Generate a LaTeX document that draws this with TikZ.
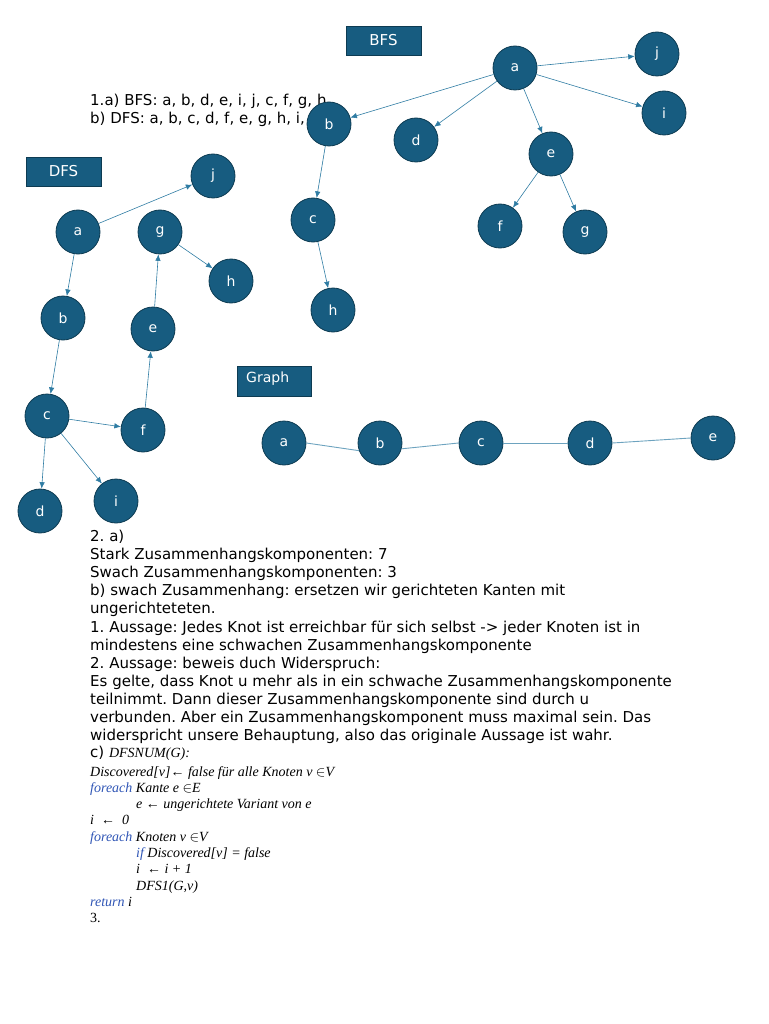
\documentclass[tikz,border=0pt]{standalone}
\usepackage{fontspec}
\setmainfont{DejaVu Sans}
\newfontfamily\tms{Liberation Serif}
\usetikzlibrary{arrows.meta}
\definecolor{nodefill}{HTML}{175C80}
\definecolor{nodeedge}{HTML}{0D3B52}
\definecolor{edgecol}{HTML}{2F7CA3}
\definecolor{kw}{HTML}{2F55B5}
\frenchspacing
\begin{document}
\begin{tikzpicture}[x=1pt,y=-1pt,
 vtx/.style={circle,fill=nodefill,draw=nodeedge,line width=0.8pt,minimum size=44pt,inner sep=0pt,text=white,font=\fontsize{14}{16}\selectfont},
 lbl/.style={rectangle,fill=nodefill,draw=nodeedge,line width=0.8pt,minimum width=75pt,minimum height=29pt,inner sep=0pt,text=white,font=\fontsize{15}{17}\selectfont},
 arr/.style={draw=edgecol,line width=0.6pt,-{Latex[length=6.5pt,width=5.5pt]}},
 und/.style={draw=edgecol!70,line width=0.9pt},
 txt/.style={anchor=base west,inner sep=0pt,font=\fontsize{15}{18}\selectfont},
 code/.style={anchor=base west,inner sep=0pt,font=\tms\itshape\fontsize{14}{16}\selectfont},
]
\useasboundingbox (0,0) rectangle (768,1024);

% ---- text ----
\node[txt] (t01) at (90,106) {1.a) BFS: a, b, d, e, i, j, c, f, g, h};
\node[txt] (t02) at (90,124) {b) DFS: a, b, c, d, f, e, g, h, i, j};

\node[txt] (t1) at (90,541) {2. a)};
\node[txt] (t2) at (90,559) {Stark Zusammenhangskomponenten: 7};
\node[txt] (t3) at (90,577) {Swach Zusammenhangskomponenten: 3};
\node[txt] (t4) at (90,595) {b) swach Zusammenhang: ersetzen wir gerichteten Kanten mit};
\node[txt] (t5) at (90,613) {ungerichteteten.};
\node[txt] (t6) at (90,632) {1. Aussage: Jedes Knot ist erreichbar für sich selbst -> jeder Knoten ist in};
\node[txt] (t7) at (90,650) {mindestens eine schwachen Zusammenhangskomponente};
\node[txt] (t8) at (90,668) {2. Aussage: beweis duch Widerspruch:};
\node[txt] (t9) at (90,686) {Es gelte, dass Knot u mehr als in ein schwache Zusammenhangskomponente};
\node[txt] (t10) at (90,704) {teilnimmt. Dann dieser Zusammenhangskomponente sind durch u};
\node[txt] (t11) at (90,722) {verbunden. Aber ein Zusammenhangskomponent muss maximal sein. Das};
\node[txt] (t12) at (90,740) {widerspricht unsere Behauptung, also das originale Aussage ist wahr.};
\node[txt] (t13) at (90,757) {c) {\tms\itshape\fontsize{14}{16}\selectfont DFSNUM(G):}};

\node[code] (c1) at (90,776) {Discovered[v]← false für alle Knoten v $\in$V};
\node[code] (c2) at (90,792) {\textcolor{kw}{foreach} Kante e $\in$E};
\node[code] (c3) at (136,808) {e ← ungerichtete Variant von e};
\node[code] (c4) at (90,824) {i \ ← \ 0};
\node[code] (c5) at (90,841) {\textcolor{kw}{foreach} Knoten v $\in$V};
\node[code] (c6) at (136,857) {\textcolor{kw}{if} Discovered[v] = false};
\node[code] (c7) at (136,873) {i \ ← i + 1};
\node[code] (c8) at (136,890) {DFS1(G,v)};
\node[code] (c9) at (90,906) {\textcolor{kw}{return} i};
\node[code,font=\tms\fontsize{14}{16}\selectfont] (c10) at (90,922) {3.};

% ---- BFS ----
\node[lbl] (bfslbl) at (383.5,40.5) {BFS};
\node[vtx] (Ba) at (515,68) {a};
\node[vtx] (Bj) at (657,54) {j};
\node[vtx] (Bi) at (664,113) {i};
\node[vtx] (Bb) at (329,124) {b};
\node[vtx] (Bd) at (416,140) {d};
\node[vtx] (Be) at (551,154) {e};
\node[vtx] (Bf) at (500,226) {f};
\node[vtx] (Bg) at (585,232) {g};
\node[vtx] (Bc) at (313,220) {c};
\node[vtx] (Bh) at (333,310) {h};
\draw[arr] (Ba) -- (Bb);
\draw[arr] (Ba) -- (Bd);
\draw[arr] (Ba) -- (Be);
\draw[arr] (Ba) -- (Bj);
\draw[arr] (Ba) -- (Bi);
\draw[arr] (Bb) -- (Bc);
\draw[arr] (Bc) -- (Bh);
\draw[arr] (Be) -- (Bf);
\draw[arr] (Be) -- (Bg);

% ---- DFS ----
\node[lbl] (dfslbl) at (63.5,171.5) {DFS};
\node[vtx] (Dj) at (213,176) {j};
\node[vtx] (Da) at (78,232) {a};
\node[vtx] (Dg) at (160,232) {g};
\node[vtx] (Dh) at (231,281) {h};
\node[vtx] (Db) at (63,318) {b};
\node[vtx] (De) at (153,329) {e};
\node[vtx] (Dc) at (47,416) {c};
\node[vtx] (Df) at (143,430) {f};
\node[vtx] (Dd) at (40,511) {d};
\node[vtx] (Di) at (116,501) {i};
\draw[arr] (Da) -- (Dj);
\draw[arr] (Da) -- (Db);
\draw[arr] (Db) -- (Dc);
\draw[arr] (Dc) -- (Df);
\draw[arr] (Df) -- (De);
\draw[arr] (De) -- (Dg);
\draw[arr] (Dg) -- (Dh);
\draw[arr] (Dc) -- (Dd);
\draw[arr] (Dc) -- (Di);

% ---- Graph ----
\node[lbl,minimum width=74pt,minimum height=30pt] (glbl) at (274,381) {};
\node[anchor=west,inner sep=0pt,text=white,font=\fontsize{14}{16}\selectfont] (gtxt) at (246,379) {Graph};
\node[vtx] (Ga) at (284,443) {a};
\node[vtx] (Gb) at (380,443) {b};
\node[vtx] (Gc) at (481,443) {c};
\node[vtx] (Gd) at (590,443) {d};
\node[vtx] (Ge) at (713,438) {e};
\draw[und] (Ga.east) -- (Gb.200);
\draw[und] (Gb.-15) -- (Gc.west);
\draw[und] (Gc.east) -- (Gd.west);
\draw[und] (Gd.east) -- (Ge.west);
\end{tikzpicture}
\end{document}
